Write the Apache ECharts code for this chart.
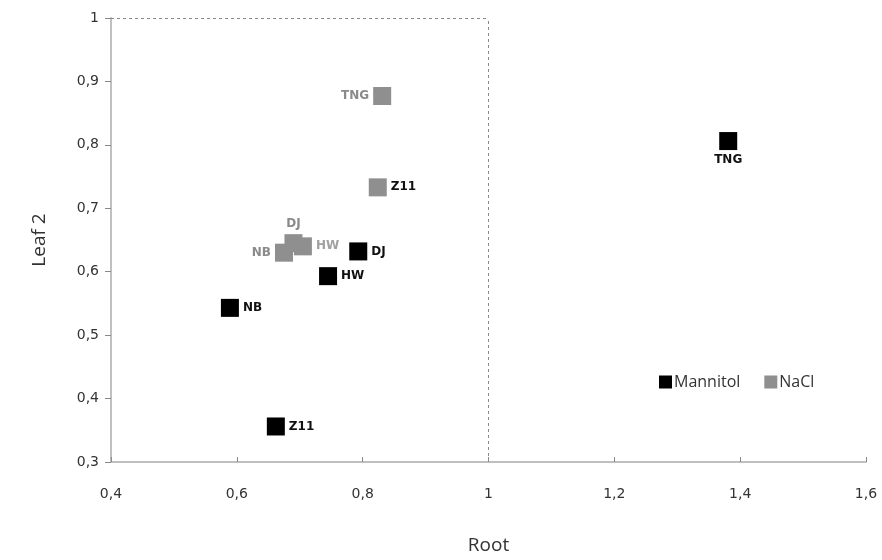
<!DOCTYPE html>
<html>
<head>
<meta charset="utf-8">
<style>
  html, body { margin: 0; padding: 0; background: #fff; }
  #chart { width: 882px; height: 560px; }
</style>
<script src="https://cdn.jsdelivr.net/npm/echarts@6/dist/echarts.min.js"></script>
</head>
<body>
<div id="chart"></div>
<script>
const lines = ["TNG", "DJ", "HW", "NB", "Z11"];

const mannitolRoot = [1.381, 0.793, 0.745, 0.589, 0.662];
const mannitolLeaf = [0.806, 0.632, 0.593, 0.543, 0.356];

const naclRoot = [0.831, 0.690, 0.705, 0.675, 0.824];
const naclLeaf = [0.877, 0.645, 0.640, 0.630, 0.733];

const xTicks = [0.4, 0.6, 0.8, 1, 1.2, 1.4, 1.6];
const yTicks = [0.3, 0.4, 0.5, 0.6, 0.7, 0.8, 0.9, 1];
const threshold = 1;

// where each point label sits (only placement, no data)
const mannitolLabelPos = { TNG: "bottom", DJ: "right", HW: "right", NB: "right", Z11: "right" };
const naclLabelPos = { TNG: "left", DJ: "top", HW: "right", NB: "left", Z11: "right" };
const naclLabelColor = { TNG: "#8a8a8a", DJ: "#8a8a8a", HW: "#a0a0a0", NB: "#8a8a8a", Z11: "#111111" };

const fmt = (v) => String(v).replace(".", ",");

function buildPoints(roots, leaves, posMap, colorMap, defaultColor) {
  return lines.map((name, i) => ({
    name,
    value: [roots[i], leaves[i]],
    label: {
      show: true,
      position: posMap[name],
      distance: 4,
      color: colorMap ? colorMap[name] : defaultColor,
      fontFamily: "DejaVu Sans",
      fontWeight: "bold",
      fontSize: 12,
      formatter: name
    }
  }));
}

const chart = echarts.init(document.getElementById("chart"), null, { renderer: "canvas" });

chart.setOption({
  backgroundColor: "#ffffff",
  animation: false,
  grid: { left: 111, right: 16, top: 18, bottom: 98 },
  legend: {
    left: 654,
    top: 369,
    itemWidth: 13,
    itemHeight: 13,
    itemGap: 24,
    icon: "rect",
    textStyle: { fontFamily: "Open Sans", fontSize: 16, color: "#333", padding: [0, 0, 0, -3] },
    data: ["Mannitol", "NaCl"]
  },
  xAxis: {
    type: "value",
    min: 0.4,
    max: 1.6,
    interval: 0.2,
    name: "Root",
    nameLocation: "middle",
    nameGap: 74,
    nameTextStyle: { fontFamily: "Open Sans", fontSize: 19, color: "#333" },
    axisLine: { show: true, lineStyle: { color: "#c0c0c0", width: 2 } },
    axisTick: { show: true, inside: true, length: 5, lineStyle: { color: "#888" } },
    axisLabel: {
      fontFamily: "DejaVu Sans",
      fontSize: 14,
      color: "#333",
      margin: 25,
      formatter: (v) => fmt(Math.round(v * 10) / 10)
    },
    splitLine: { show: false }
  },
  yAxis: {
    type: "value",
    min: 0.3,
    max: 1,
    interval: 0.1,
    name: "Leaf 2",
    nameLocation: "middle",
    nameGap: 62,
    nameRotate: 90,
    nameTextStyle: { fontFamily: "Open Sans", fontSize: 19, color: "#333" },
    axisLine: { show: true, lineStyle: { color: "#c0c0c0", width: 2 } },
    axisTick: { show: true, length: 6, lineStyle: { color: "#888" } },
    axisLabel: {
      fontFamily: "DejaVu Sans",
      fontSize: 14,
      color: "#333",
      margin: 12,
      formatter: (v) => fmt(Math.round(v * 10) / 10)
    },
    splitLine: { show: false }
  },
  series: [
    {
      name: "NaCl",
      type: "scatter",
      symbol: "rect",
      symbolSize: 18,
      itemStyle: { color: "#8f8f8f", opacity: 1 },
      z: 2,
      data: buildPoints(naclRoot, naclLeaf, naclLabelPos, naclLabelColor)
    },
    {
      name: "Mannitol",
      type: "scatter",
      symbol: "rect",
      symbolSize: 18,
      itemStyle: { color: "#000000", opacity: 1 },
      z: 3,
      data: buildPoints(mannitolRoot, mannitolLeaf, mannitolLabelPos, null, "#111111"),
      markLine: {
        silent: true,
        symbol: "none",
        label: { show: false },
        lineStyle: { color: "#8a8a8a", type: [3, 3], width: 1 },
        data: [
          [{ coord: [xTicks[0], threshold] }, { coord: [threshold, threshold] }],
          [{ coord: [threshold, yTicks[0]] }, { coord: [threshold, threshold] }]
        ]
      }
    }
  ]
});
</script>
</body>
</html>
